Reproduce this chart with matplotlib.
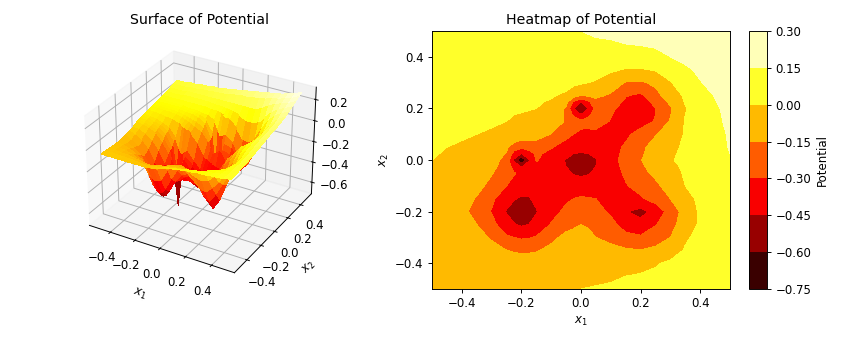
import matplotlib
matplotlib.use("Agg")
import matplotlib.pyplot as plt
import numpy as np

x1_values = [-.50,-.45,-.40,-.35,-.30,-.25,-.225,-.20,-.175,-.15,-.10,-.05,-.025,0,.025,.05,.10,.15,.20,.25,.30,.35,.40,.45,.50]
x2_values = [.50,.45,.40,.35,.30,.25,.225,.20,.175,.15,.10,.05,.025,0,-.025,-.05,-.10,-.15,-.20,-.25,-.30,-.35,-.40,-.45,-.50]
potential_rows = [
[.09,.09,.10,.10,.11,.11,.115,.12,.12,.12,.13,.14,.145,.15,.155,.16,.17,.18,.19,.20,.21,.22,.24,.26,.28],
[.08,.08,.08,.09,.09,.10,.10,.10,.105,.11,.11,.12,.125,.13,.135,.14,.14,.15,.16,.17,.19,.20,.22,.24,.27],
[.07,.07,.07,.08,.08,.08,.08,.08,.08,.08,.08,.08,.08,.08,.08,.08,.08,.08,.08,.11,.15,.18,.20,.22,.25],
[.06,.06,.06,.07,.07,.07,.07,.07,.07,.07,.06,.06,.055,.05,.045,.04,.02,-.01,-.01,.01,.07,.13,.17,.20,.23],
[.05,.05,.05,.05,.05,.05,.05,.05,.05,.05,.04,.04,.03,.02,.00,-.01,-.07,-.16,-.17,-.12,-.01,.08,.145,.18,.21],
[.04,.04,.04,.04,.04,.03,.03,.03,.025,.02,.01,-.02,-.08,-.15,-.13,-.12,-.17,-.29,-.33,-.20,-.07,.02,.10,.155,.19],
[.035,.035,.035,.035,.035,.025,.025,.025,.02,.01,-.01,-.10,-.33,-.45,-.33,-.19,-.21,-.33,-.36,-.27,-.12,.01,.09,.145,.185],
[.03,.03,.03,.03,.03,.02,.02,.02,.01,.00,-.04,-.17,-.45,-.62,-.45,-.25,-.27,-.36,-.37,-.30,-.17,-.01,.08,.135,.18],
[.03,.03,.025,.025,.02,.01,.00,-.01,-.02,-.03,-.065,-.17,-.33,-.45,-.33,-.24,-.29,-.38,-.37,-.30,-.155,.00,.08,.13,.175],
[.025,.025,.02,.02,.01,.00,-.015,-.03,-.045,-.06,-.09,-.16,-.21,-.27,-.25,-.22,-.31,-.38,-.36,-.29,-.14,.01,.08,.13,.17],
[.02,.015,.01,.00,-.01,-.03,-.04,-.05,-.07,-.09,-.155,-.26,-.30,-.32,-.335,-.35,-.37,-.33,-.25,-.16,-.07,.01,.07,.12,.16],
[.01,.00,-.01,-.03,-.06,-.13,-.21,-.27,-.24,-.22,-.29,-.36,-.38,-.39,-.39,-.39,-.35,-.28,-.18,-.10,-.03,.02,.07,.12,.155],
[.005,-.005,-.02,-.04,-.075,-.16,-.36,-.45,-.36,-.28,-.33,-.40,-.45,-.46,-.45,-.42,-.35,-.27,-.17,-.095,-.02,.025,.07,.115,.15],
[.00,-.01,-.03,-.05,-.09,-.20,-.47,-.75,-.47,-.29,-.37,-.46,-.48,-.49,-.48,-.46,-.34,-.26,-.155,-.09,-.01,.03,.07,.11,.14],
[-.005,-.02,-.035,-.06,-.115,-.21,-.37,-.47,-.37,-.33,-.39,-.45,-.48,-.49,-.48,-.45,-.35,-.27,-.17,-.105,-.03,.02,.065,.105,.14],
[-.01,-.025,-.04,-.07,-.14,-.23,-.29,-.33,-.36,-.38,-.41,-.43,-.46,-.47,-.46,-.43,-.36,-.28,-.19,-.12,-.05,.015,.06,.10,.135],
[-.03,-.04,-.07,-.11,-.19,-.30,-.34,-.37,-.39,-.40,-.40,-.39,-.395,-.40,-.39,-.38,-.35,-.31,-.25,-.18,-.09,.00,.05,.09,.125],
[-.04,-.06,-.10,-.16,-.27,-.40,-.44,-.47,-.46,-.42,-.37,-.32,-.30,-.28,-.29,-.30,-.34,-.38,-.32,-.24,-.15,-.05,.03,.08,.115],
[-.05,-.08,-.12,-.19,-.31,-.46,-.51,-.53,-.51,-.46,-.35,-.27,-.255,-.24,-.25,-.26,-.32,-.44,-.50,-.40,-.24,-.09,.02,.07,.105],
[-.06,-.08,-.11,-.15,-.25,-.40,-.44,-.47,-.45,-.41,-.29,-.19,-.17,-.15,-.165,-.18,-.26,-.36,-.40,-.31,-.20,-.08,.02,.065,.10],
[-.06,-.07,-.09,-.12,-.16,-.28,-.30,-.32,-.31,-.29,-.18,-.12,-.11,-.10,-.12,-.15,-.20,-.26,-.28,-.22,-.15,-.015,.03,.06,.09],
[-.06,-.065,-.075,-.09,-.12,-.15,-.16,-.17,-.165,-.16,-.12,-.09,-.085,-.08,-.08,-.08,-.10,-.13,-.145,-.12,-.06,.01,.035,.06,.085],
[-.055,-.06,-.065,-.07,-.08,-.09,-.095,-.10,-.10,-.095,-.08,-.07,-.065,-.06,-.057,-.055,-.05,-.05,-.04,-.01,.02,.03,.04,.06,.08],
[-.05,-.05,-.055,-.055,-.06,-.065,-.07,-.07,-.07,-.07,-.06,-.05,-.045,-.04,-.035,-.03,-.02,.00,.01,.02,.03,.04,.05,.06,.075],
[-.05,-.05,-.05,-.05,-.05,-.05,-.05,-.05,-.05,-.05,-.04,-.03,-.015,.00,.005,.01,.02,.03,.03,.04,.04,.05,.05,.06,.07],
]
contour_levels = [-.75,-.60,-.45,-.30,-.15,0,.15,.30]

X, Y = np.meshgrid(x1_values, x2_values)
Z = np.array(potential_rows)

W, H = 847, 339
fig = plt.figure(figsize=(W/85, H/85), dpi=85)

ax3 = fig.add_axes([50/W, 50/H, 298/W, 258/H], projection='3d')
ax3.plot_surface(X, Y, Z, cmap='hot', linewidth=0, antialiased=False, vmin=-.75, vmax=.30)
ax3.set_zlim(-.715, .315)
ax3.set_title('Surface of Potential', fontsize=12)
ax3.set_xlabel('$x_1$', labelpad=6)
ax3.set_ylabel('$x_2$', labelpad=6)
ax3.set_xticks([-.4,-.2,0,.2,.4])
ax3.set_yticks([-.4,-.2,0,.2,.4])
ax3.set_zticks([-.6,-.4,-.2,0,.2])

ax = fig.add_axes([432/W, 50/H, 298/W, 258/H])
cf = ax.contourf(X, Y, Z, levels=contour_levels, cmap='hot')
ax.set_title('Heatmap of Potential', fontsize=12)
ax.set_xlabel('$x_1$')
ax.set_ylabel('$x_2$')
ax.set_xticks([-.4,-.2,0,.2,.4])
ax.set_yticks([-.4,-.2,0,.2,.4])

cax = fig.add_axes([749/W, 50/H, 18/W, 258/H])
cb = fig.colorbar(cf, cax=cax)
cb.set_label('Potential')

fig.savefig('out.png', dpi=85)
